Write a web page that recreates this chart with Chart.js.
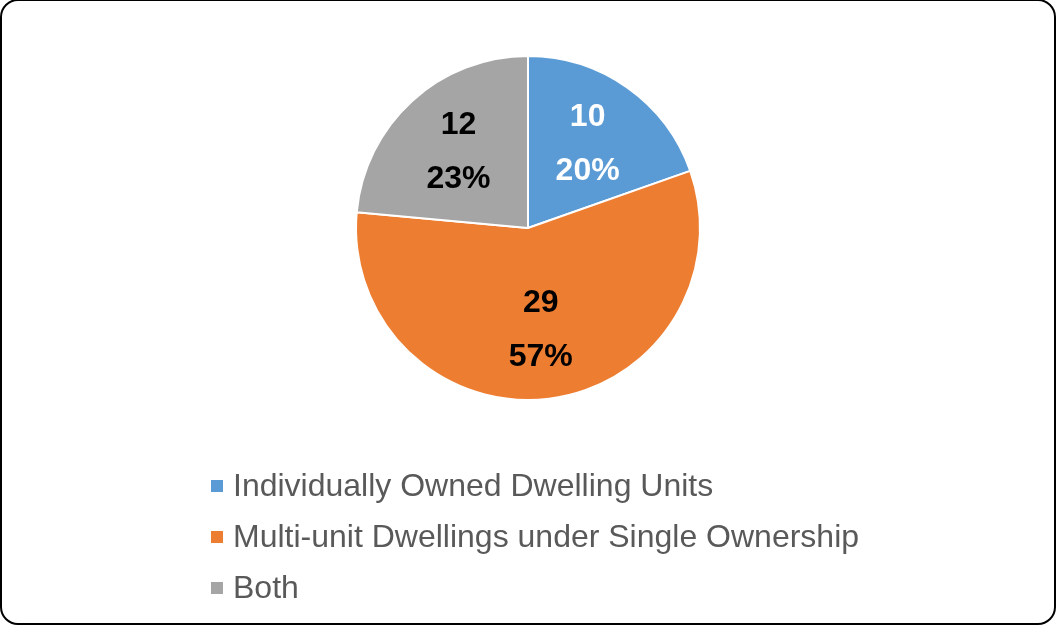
<!DOCTYPE html>
<html>
<head>
<meta charset="utf-8">
<script src="https://cdn.jsdelivr.net/npm/chart.js@4.4.1/dist/chart.umd.min.js"></script>
<style>
  html, body { margin: 0; padding: 0; background: #fff; }
  body { width: 1056px; height: 626px; position: relative; overflow: hidden; font-family: "Liberation Sans", Arial, sans-serif; }
  .frame { position: absolute; left: 0; top: -1px; width: 1052px; height: 622px; border: 2px solid #000; border-radius: 18px; }
  canvas { position: absolute; left: 0; top: 0; }
  #legend { position: absolute; left: 211px; top: 460px; list-style: none; margin: 0; padding: 0; }
  #legend li { height: 51px; font-size: 32px; color: #595959; display: flex; align-items: center; }
  #legend li span.box { width: 12px; height: 12px; margin-right: 10px; display: inline-block; }
</style>
</head>
<body>
<div class="frame"></div>
<canvas id="pie" width="1056" height="626"></canvas>
<ul id="legend"></ul>
<script>
const categories = ["Individually Owned Dwelling Units", "Multi-unit Dwellings under Single Ownership", "Both"];
const counts = [10, 29, 12];
const percents = [20, 57, 23];
const colors = ["#5B9BD5", "#ED7D31", "#A5A5A5"];
const labelColors = ["#fff", "#000", "#000"];

// count + percentage written inside each slice
const sliceLabels = {
  id: "sliceLabels",
  afterDatasetsDraw(chart) {
    const ctx = chart.ctx;
    const meta = chart.getDatasetMeta(0);
    ctx.save();
    ctx.font = "bold 32px 'Liberation Sans', Arial, sans-serif";
    ctx.textAlign = "center";
    ctx.textBaseline = "middle";
    meta.data.forEach((arc, i) => {
      const p = arc.getProps(["x", "y", "startAngle", "endAngle", "outerRadius"], true);
      const mid = (p.startAngle + p.endAngle) / 2;
      const r = p.outerRadius * 0.6;
      const x = p.x + Math.cos(mid) * r;
      const y = p.y + Math.sin(mid) * r;
      ctx.fillStyle = labelColors[i];
      ctx.fillText(counts[i], x, y - 27);
      ctx.fillText(percents[i] + "%", x, y + 27);
    });
    ctx.restore();
  }
};

const chart = new Chart(document.getElementById("pie").getContext("2d"), {
  type: "pie",
  data: {
    labels: categories,
    datasets: [{
      data: counts,
      backgroundColor: colors,
      borderColor: "#fff",
      borderWidth: 2
    }]
  },
  options: {
    responsive: false,
    animation: false,
    layout: { padding: { top: 55, bottom: 225 } },
    plugins: {
      legend: { display: false },
      tooltip: { enabled: false }
    }
  },
  plugins: [sliceLabels]
});

const legend = document.getElementById("legend");
categories.forEach((c, i) => {
  const li = document.createElement("li");
  li.innerHTML = '<span class="box" style="background:' + colors[i] + '"></span>' + c;
  legend.appendChild(li);
});
</script>
</body>
</html>
